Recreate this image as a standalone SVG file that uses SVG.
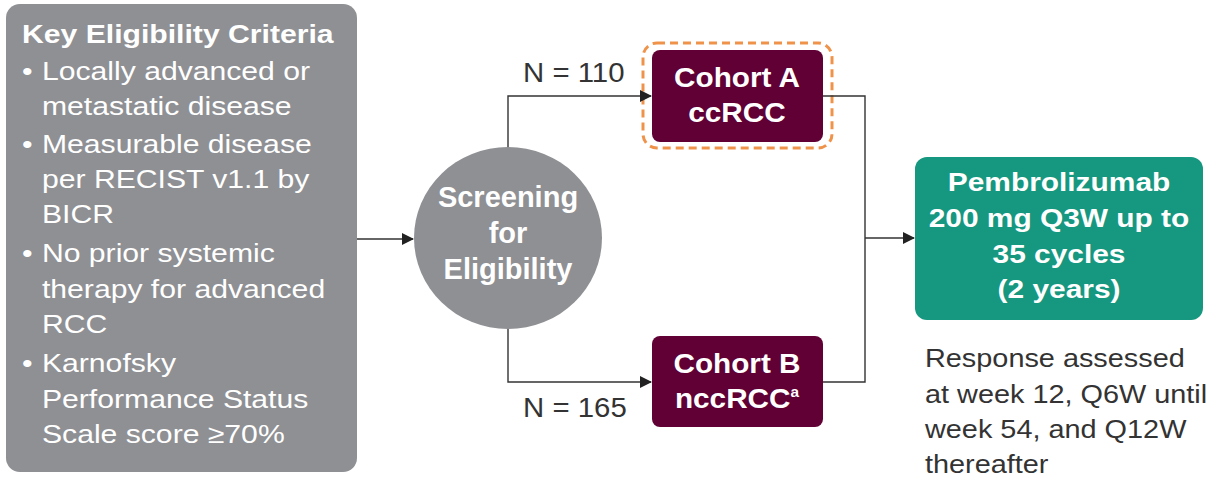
<svg xmlns="http://www.w3.org/2000/svg" width="1216" height="479" viewBox="0 0 1216 479">
<style>
.t{font-family:"Liberation Sans",Arial,sans-serif}
.b{font-weight:bold}
.w{fill:#ffffff}
.d{fill:#333333}
.c{text-anchor:middle}
.ln{fill:none;stroke:#333333;stroke-width:1.4}
</style>
<defs>
<marker id="ah" markerWidth="12" markerHeight="12" refX="11" refY="6" orient="auto" markerUnits="userSpaceOnUse" viewBox="0 0 12 12">
<path d="M0,0 L12,6 L0,12 Z" fill="#222222"/>
</marker>
</defs>
<rect width="1216" height="479" fill="#ffffff"/>
<g id="criteria">
<rect x="6" y="4" width="351" height="468" rx="14" fill="#8f9094"/>
<g transform="translate(22 0) scale(1.16 1)" class="t w" font-size="26">
<text class="b" x="0" y="43">Key Eligibility Criteria</text>
<text x="0" y="80">•</text><text x="17.2" y="80">Locally advanced or</text>
<text x="17.2" y="115">metastatic disease</text>
<text x="0" y="153">•</text><text x="17.2" y="153">Measurable disease</text>
<text x="17.2" y="188">per RECIST v1.1 by</text>
<text x="17.2" y="223">BICR</text>
<text x="0" y="262">•</text><text x="17.2" y="262">No prior systemic</text>
<text x="17.2" y="298">therapy for advanced</text>
<text x="17.2" y="333">RCC</text>
<text x="0" y="372">•</text><text x="17.2" y="372">Karnofsky</text>
<text x="17.2" y="408">Performance Status</text>
<text x="17.2" y="443">Scale score ≥70%</text>
</g>
</g>
<g id="screening">
<ellipse cx="508" cy="238" rx="94" ry="91" fill="#8f9094"/>
<g class="t b w c" font-size="29">
<text x="508" y="207">Screening</text>
<text x="508" y="243">for</text>
<text x="508" y="279">Eligibility</text>
</g>
</g>
<g id="cohortA">
<rect x="643" y="43" width="189" height="105" rx="14" fill="none" stroke="#f0934a" stroke-width="3" stroke-dasharray="8,5"/>
<rect x="652" y="50" width="171" height="92" rx="8" fill="#600035"/>
<g transform="translate(737 0) scale(1.1 1)" class="t b w c" font-size="27">
<text x="0" y="87">Cohort A</text>
<text x="0" y="122">ccRCC</text>
</g>
</g>
<g id="cohortB">
<rect x="652" y="336" width="171" height="91" rx="8" fill="#600035"/>
<g transform="translate(737 0) scale(1.1 1)" class="t b w c" font-size="27">
<text x="0" y="373">Cohort B</text>
<text x="0" y="408">nccRCC<tspan font-size="14" dy="-11">a</tspan></text>
</g>
</g>
<g id="pembro">
<rect x="915" y="157" width="288" height="163" rx="12" fill="#16977f"/>
<g transform="translate(1059 0) scale(1.15 1)" class="t b w c" font-size="26">
<text x="0" y="191">Pembrolizumab</text>
<text x="0" y="227">200 mg Q3W up to</text>
<text x="0" y="263">35 cycles</text>
<text x="0" y="298">(2 years)</text>
</g>
</g>
<g id="response" transform="translate(925 0) scale(1.11 1)" class="t d" font-size="26">
<text x="0" y="367">Response assessed</text>
<text x="0" y="403">at week 12, Q6W until</text>
<text x="0" y="438">week 54, and Q12W</text>
<text x="0" y="473">thereafter</text>
</g>
<g id="labels" class="t d" font-size="28">
<g transform="translate(523 0) scale(1.05 1)">
<text x="0" y="82">N = 110</text>
<text x="0" y="417">N = 165</text>
</g>
</g>
<g id="connectors">
<path class="ln" d="M357,239 H413" marker-end="url(#ah)"/>
<path class="ln" d="M508,147 V96 H651" marker-end="url(#ah)"/>
<path class="ln" d="M508,329 V382 H651" marker-end="url(#ah)"/>
<path class="ln" d="M823,96 H865 V382 H823"/>
<path class="ln" d="M865,238 H914" marker-end="url(#ah)"/>
</g>
</svg>
